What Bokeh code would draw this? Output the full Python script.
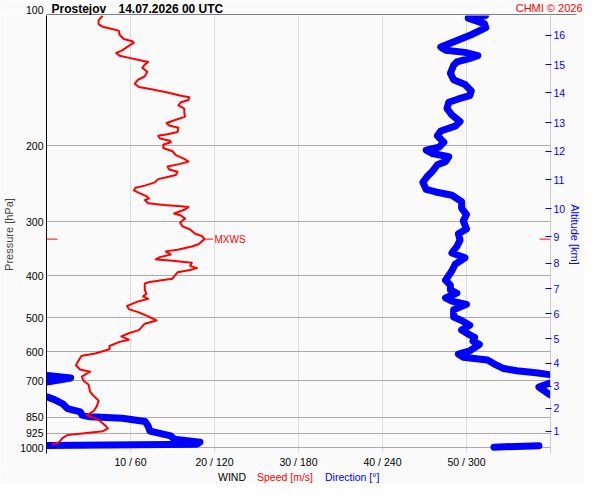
import numpy as np
from bokeh.plotting import figure
from bokeh.layouts import column
from bokeh.models import LogAxis, FixedTicker, Range1d, BasicTickFormatter
from bokeh.embed import file_html
from bokeh.resources import INLINE
from bokeh.core.properties import value

# ---------------- data ----------------
station = "Prostejov"
stamp = "14.07.2026 00 UTC"
credit = "CHMI \u00a9 2026"
bottom_words = ["WIND", "Speed [m/s]", "Direction [\u00b0]"]

pressure_ticks = [100, 200, 300, 400, 500, 600, 700, 850, 925, 1000]
speed_ticks = [10, 20, 30, 40, 50]
dir_ticks = [60, 120, 180, 240, 300]
alt_km = [1, 2, 3, 4, 5, 6, 7, 8, 9, 10, 11, 12, 13, 14, 15, 16]
alt_hpa = [916, 810, 720, 637, 560, 490, 429, 374, 325, 280, 240, 206, 177, 151, 130, 111]

speed_p = [100, 102.6, 104.7, 106.2, 107.6, 108.4, 110.8, 113.3, 114.7, 115.6,
           117.6, 120.7, 122.1, 123.9, 125.5, 127.1, 128.1, 129.9, 132.1, 134.9,
           138.3, 140.8, 143.9, 146.4, 148.2, 150.7, 153.3, 154.6, 156.8, 158.7,
           161.4, 164.2, 167.9, 171.4, 174.2, 177.3, 179.7, 181.9, 186.0, 188.2,
           189.8, 192.5, 194.8, 196.5, 199.1, 202.6, 206.1, 210.4, 214.7, 217.8,
           220.7, 223.4, 227.2, 229.9, 233.9, 236.3, 239.1, 243.2, 247.5, 250.4,
           253.9, 257.3, 261.8, 265.0, 267.3, 271.9, 274.3, 275.7, 277.5, 281.4,
           287.1, 290.1, 295.1, 301.2, 307.5, 312.7, 319.8, 323.6, 329.1, 338.3,
           342.3, 348.2, 351.3, 357.3, 362.2, 366.6, 368.5, 373.1, 379.5, 384.0,
           387.9, 392.7, 401.5, 406.2, 409.8, 413.4, 416.8, 431.4, 440.4, 446.5,
           452.5, 458.0, 469.8, 477.9, 486.2, 494.7, 507.5, 516.3, 534.3, 543.4,
           552.6, 562.2, 568.9, 581.6, 591.8, 605.0, 612.2, 619.8, 644.4, 659.1,
           666.8, 684.2, 699.5, 714.0, 742.7, 758.1, 777.9, 801.0, 823.0, 840.1,
           861.8, 891.9, 902.6, 915.2, 927.5, 934.2, 950.0, 971.2, 983.3]
speed_ms = [6.7, 6.2, 6.2, 6.7, 7.9, 8.6, 8.7, 9.2, 10.2, 10.4,
            9.8, 8.9, 8.3, 8.7, 10.0, 11.3, 12.1, 11.7, 11.4, 12.0,
            11.7, 10.9, 10.5, 11.0, 12.5, 14.4, 16.0, 17.0, 16.9, 16.0,
            15.7, 16.4, 16.4, 16.5, 15.4, 14.3, 14.6, 15.7, 15.6, 14.4,
            13.3, 13.5, 14.7, 14.8, 13.9, 13.9, 15.0, 15.4, 16.4, 16.9,
            15.8, 14.4, 14.6, 15.6, 15.4, 14.4, 13.3, 12.9, 11.7, 10.6,
            10.4, 11.0, 11.9, 12.2, 11.7, 12.1, 14.0, 15.6, 16.9, 16.4,
            15.2, 16.0, 16.5, 15.9, 16.2, 17.1, 17.7, 18.5, 18.8, 18.1,
            17.3, 15.6, 14.2, 14.8, 13.5, 13.0, 14.4, 17.3, 17.1, 17.9,
            17.1, 15.6, 15.2, 15.0, 13.7, 12.3, 11.7, 11.7, 11.9, 11.5,
            12.1, 11.0, 9.6, 9.8, 11.0, 11.9, 13.1, 11.7, 11.0, 9.8,
            8.9, 9.8, 8.7, 7.5, 7.5, 5.8, 4.2, 4.0, 3.5, 4.0,
            5.2, 4.2, 4.4, 5.0, 5.2, 5.6, 6.2, 6.0, 5.6, 4.8,
            6.2, 7.1, 7.3, 6.7, 4.0, 2.5, 1.9, 1.5, 0.6]

dir_p = [100, 101.4, 104.4, 106.7, 110.8, 114.7, 118.3, 120.3, 121.7, 123.9,
         126.0, 128.1, 130.3, 136.0, 140.8, 144.4, 149.4, 153.3, 156.0, 158.7,
         164.2, 169.9, 175.8, 180.3, 185.0, 189.8, 196.5, 201.6, 205.0, 208.6,
         212.2, 217.8, 221.5, 229.2, 235.1, 243.2, 252.6, 256.0, 260.5, 269.5,
         278.9, 288.7, 298.6, 311.7, 319.8, 330.8, 342.3, 354.3, 363.6, 376.2,
         389.4, 409.8, 420.5, 431.4, 438.7, 450.1, 458.0, 465.9, 479.6, 498.5,
         507.5, 520.6, 534.3, 548.1, 555.5, 566.9, 576.8, 596.8, 607.3, 617.5,
         626.3, 639.3, 655.8, 663.5, 670.5, 677.3, 680.8, 689.4, 705.0, 708.0,
         723.8, 754.3, 762.1, 773.8, 791.1, 811.8, 826.0, 840.1, 847.5, 854.4,
         869.5, 891.9, 915.2, 938.8, 955.0, 971.2, 981.0, 988.3, 989.0, 996.6]
dir_deg = [313.6, 301.2, 312.7, 313.8, 303.4, 291.9, 281.6, 285.0, 298.9, 308.1,
           301.2, 293.1, 290.8, 288.5, 290.8, 298.9, 303.4, 302.3, 294.2, 287.3,
           286.1, 289.6, 295.4, 291.9, 281.6, 279.2, 283.8, 280.4, 271.2, 275.7,
           287.3, 285.0, 279.2, 275.7, 272.3, 268.8, 271.2, 278.1, 289.6, 296.5,
           296.5, 300.0, 297.7, 300.0, 294.2, 295.4, 293.1, 289.6, 298.9, 291.9,
           289.6, 285.0, 288.5, 288.5, 293.1, 285.0, 289.6, 300.0, 290.8, 290.8,
           296.5, 302.3, 296.5, 302.3, 305.8, 304.6, 309.2, 302.3, 294.2, 297.7,
           315.0, 319.6, 326.6, 335.8, 349.6, 359.3, 0.7, 17.3, 0.3, 359.7,
           351.7, 359.7, 0.3, 5.7, 11.6, 15.0, 24.2, 25.4, 31.2, 54.2,
           70.4, 72.7, 73.9, 88.8, 91.2, 109.6, 107.3, 0.3, 351.7, 319.6]

# ---------------- layout / style ----------------
FONT = "Liberation Sans"
BG = "#fafafa"
RED = "#ff0000"
BLUE = "#0000ff"
P_BOTTOM = 1031.0

W = 584
H_HEAD, H_MAIN, H_FOOT = 15, 455, 14
FL, FR = 46, 33                 # main frame borders left / right
FRAME_R = W - FR


def strip(h):
    f = figure(width=W, height=h, output_backend="svg", toolbar_location=None,
               x_range=Range1d(0, W), y_range=Range1d(0, h),
               x_axis_location=None, y_axis_location=None, title_location=None,
               min_border=0, frame_align=False)
    f.min_border_left = f.min_border_right = 0
    f.min_border_top = f.min_border_bottom = 0
    f.grid.visible = False
    f.background_fill_color = BG
    f.border_fill_color = BG
    f.outline_line_color = None
    return f


# ---- header strip: title, credit, top frame line
head = strip(H_HEAD)
head.text(x=[FL + 5], y=[7], text=[station], text_font=value(FONT),
          text_font_size="12px", text_font_style="bold", text_color="black",
          text_baseline="middle")
head.text(x=[FL + 72], y=[7], text=[stamp], text_font=value(FONT),
          text_font_size="12px", text_font_style="bold", text_color="black",
          text_baseline="middle")
head.text(x=[W - 2], y=[7.5], text=[credit], text_font=value(FONT),
          text_font_size="11px", text_color=RED, text_align="right",
          text_baseline="middle")
head.text(x=[FL - 3], y=[6], text=[str(pressure_ticks[0])], text_font=value(FONT),
          text_font_size="10.5px", text_color="black", text_align="right",
          text_baseline="middle")
head.segment(x0=[FL], x1=[FRAME_R + 25], y0=[0.5], y1=[0.5],
             line_color="black", line_width=1)

# ---- main plot
p = figure(width=W, height=H_MAIN, output_backend="svg", toolbar_location=None,
           x_range=Range1d(0, 60), y_range=Range1d(P_BOTTOM, 100),
           y_axis_type="log", title_location=None, frame_align=False,
           min_border_left=FL, min_border_right=FR,
           min_border_top=0, min_border_bottom=16)
p.extra_x_ranges = {"dir": Range1d(0, 360)}
p.background_fill_color = BG
p.border_fill_color = BG
p.outline_line_color = None

ya = p.yaxis[0]
ya.ticker = FixedTicker(ticks=pressure_ticks)
ya.formatter = BasicTickFormatter(use_scientific=False)
ya.major_label_overrides = {pressure_ticks[0]: ""}
ya.axis_line_color = "black"
ya.major_tick_line_color = None
ya.minor_tick_line_color = None
ya.major_tick_out = 0
ya.major_tick_in = 0
ya.major_label_standoff = 3
ya.major_label_text_font = FONT
ya.major_label_text_font_size = "10.5px"
ya.major_label_text_color = "black"
ya.axis_label = "Pressure [hPa]"
ya.axis_label_text_font = FONT
ya.axis_label_text_font_size = "11px"
ya.axis_label_text_font_style = "normal"
ya.axis_label_standoff = 2

xa = p.xaxis[0]
xa.ticker = FixedTicker(ticks=speed_ticks)
xa.major_label_overrides = {s: f"{s} / {d}" for s, d in zip(speed_ticks, dir_ticks)}
xa.axis_line_color = None
xa.major_tick_line_color = None
xa.minor_tick_line_color = None
xa.major_tick_out = 0
xa.major_tick_in = 0
xa.major_label_standoff = 2
xa.major_label_text_font = FONT
xa.major_label_text_font_size = "10.5px"
xa.major_label_text_color = "black"

ra = LogAxis(ticker=FixedTicker(ticks=alt_hpa),
             major_label_overrides={h: str(k) for h, k in zip(alt_hpa, alt_km)})
ra.axis_line_color = "#cccccc"
ra.major_tick_line_color = BLUE
ra.minor_tick_line_color = None
ra.major_tick_in = 5
ra.major_tick_out = 1
ra.major_label_standoff = 2
ra.major_label_text_font = FONT
ra.major_label_text_font_size = "10.5px"
ra.major_label_text_color = BLUE
ra.axis_label = "Altitude [km]"
ra.axis_label_text_font = FONT
ra.axis_label_text_font_size = "11px"
ra.axis_label_text_font_style = "normal"
ra.axis_label_text_color = BLUE
ra.axis_label_standoff = 1
p.add_layout(ra, "right")

p.xgrid.grid_line_color = "#dddddd"
p.ygrid.ticker = FixedTicker(ticks=pressure_ticks[1:])
p.ygrid.grid_line_color = "#aaaaaa"

# direction (break the line where it wraps through 0/360)
dx, dy = [], []
for i, (pp, dd) in enumerate(zip(dir_p, dir_deg)):
    if i > 0 and abs(dd - dir_deg[i - 1]) > 180:
        dx.append(float("nan"))
        dy.append(float("nan"))
    dx.append(dd)
    dy.append(pp)
p.line(dx, dy, x_range_name="dir", line_color=BLUE, line_width=7,
       line_cap="round", line_join="round")

# speed
p.line(speed_ms, speed_p, line_color=RED, line_width=2, line_join="round")

# maximum wind
imx = int(np.argmax(speed_ms))
mxs, mxp = speed_ms[imx], speed_p[imx]
p.segment(x0=[mxs, 0, 58.7], x1=[mxs + 1.0, 1.3, 60], y0=[mxp] * 3, y1=[mxp] * 3,
          line_color=RED, line_width=1)
p.text(x=[mxs + 1.2], y=[mxp], text=["MXWS"], text_color=RED,
       text_font=value(FONT), text_font_size="10px", text_baseline="middle")

# ---- footer strip: wind legend text
foot = strip(H_FOOT)
cx = FL + (FRAME_R - FL) / 2
x0 = cx - 81
for txt, off, col in zip(bottom_words, [0, 39, 107], ["black", RED, BLUE]):
    foot.text(x=[x0 + off], y=[H_FOOT / 2 + 1], text=[txt], text_font=value(FONT),
              text_font_size="10.5px", text_color=col, text_baseline="middle")

layout = column(head, p, foot, spacing=0)
open("out.html", "w").write(file_html(layout, INLINE))
